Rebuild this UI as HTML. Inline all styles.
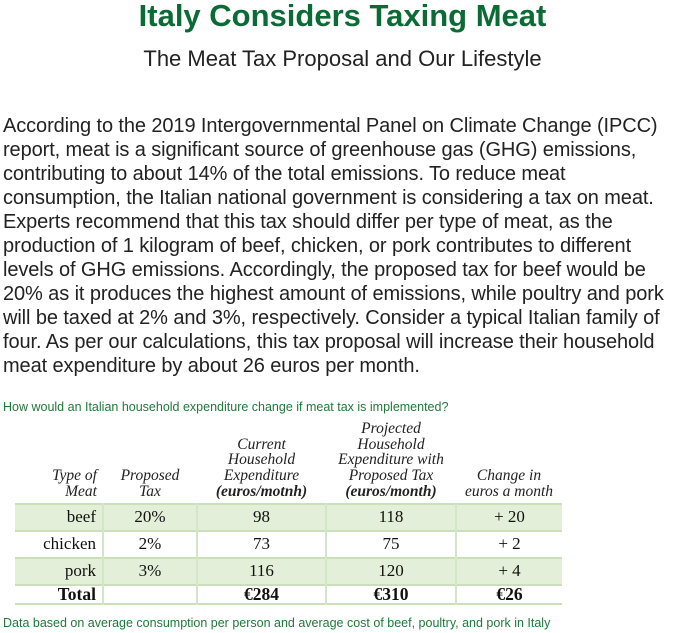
<!DOCTYPE html>
<html><head><meta charset="utf-8"><style>
body{margin:0;width:685px;height:633px;background:#fff;position:relative;overflow:hidden;font-family:"Liberation Sans",sans-serif}
.abs{position:absolute;white-space:nowrap}
#title{left:0;width:685px;text-align:center;top:-2px;font-size:31px;font-weight:bold;color:#0b6b34}
#sub{left:0;width:685px;text-align:center;top:46px;font-size:22px;color:#222}
.p{left:3px;font-size:20px;color:#222;letter-spacing:-0.1px}
.cap{left:3px;font-size:12.5px;color:#1f7a3a}
table{position:absolute;left:15px;top:421px;border-collapse:collapse;table-layout:fixed;font-family:"Liberation Serif",serif;color:#111}
th{font-style:italic;font-weight:normal;font-size:15.5px;line-height:15.7px;vertical-align:bottom;padding:0 0 3px 0;text-align:center;color:#222}
th b{font-weight:bold}
td{font-size:17px;height:25px;line-height:20px;padding:0;text-align:center;border-left:2px solid #d4e6c8}
td:first-child{border-left:none;text-align:right;padding-right:6px}
tr.g td{background:#e3efd8}
tbody tr{border-top:2px solid #c9e0b8}
tbody tr:last-child{border-bottom:2px solid #c9e0b8}
.tot td{font-weight:bold;font-size:17.5px;height:17px;line-height:17px}
</style></head><body>
<div id="title" class="abs">Italy Considers Taxing Meat</div>
<div id="sub" class="abs">The Meat Tax Proposal and Our Lifestyle</div>
<div>
<div class="abs p" style="top:115px">According to the 2019 Intergovernmental Panel on Climate Change (IPCC)</div>
<div class="abs p" style="top:139px">report, meat is a significant source of greenhouse gas (GHG) emissions,</div>
<div class="abs p" style="top:163px">contributing to about 14% of the total emissions. To reduce meat</div>
<div class="abs p" style="top:187px">consumption, the Italian national government is considering a tax on meat.</div>
<div class="abs p" style="top:211px">Experts recommend that this tax should differ per type of meat, as the</div>
<div class="abs p" style="top:235px">production of 1 kilogram of beef, chicken, or pork contributes to different</div>
<div class="abs p" style="top:259px">levels of GHG emissions. Accordingly, the proposed tax for beef would be</div>
<div class="abs p" style="top:283px">20% as it produces the highest amount of emissions, while poultry and pork</div>
<div class="abs p" style="top:307px">will be taxed at 2% and 3%, respectively. Consider a typical Italian family of</div>
<div class="abs p" style="top:331px">four. As per our calculations, this tax proposal will increase their household</div>
<div class="abs p" style="top:355px">meat expenditure by about 26 euros per month.</div>
</div>
<div class="abs cap" style="top:400px">How would an Italian household expenditure change if meat tax is implemented?</div>
<table>
<colgroup><col style="width:88px"><col style="width:94px"><col style="width:129px"><col style="width:130px"><col style="width:106px"></colgroup>
<thead><tr>
<th style="text-align:right;padding-right:6px">Type of<br>Meat</th>
<th>Proposed<br>Tax</th>
<th>Current<br>Household<br>Expenditure<br><b>(euros/motnh)</b></th>
<th>Projected<br>Household<br>Expenditure with<br>Proposed Tax<br><b>(euros/month)</b></th>
<th>Change in<br>euros a month</th>
</tr></thead>
<tbody>
<tr class="g"><td>beef</td><td>20%</td><td>98</td><td>118</td><td>+ 20</td></tr>
<tr><td>chicken</td><td>2%</td><td>73</td><td>75</td><td>+ 2</td></tr>
<tr class="g"><td>pork</td><td>3%</td><td>116</td><td>120</td><td>+ 4</td></tr>
<tr class="tot"><td>Total</td><td></td><td>€284</td><td>€310</td><td>€26</td></tr>
</tbody></table>
<div class="abs cap" style="top:616px">Data based on average consumption per person and average cost of beef, poultry, and pork in Italy</div>
</body></html>
